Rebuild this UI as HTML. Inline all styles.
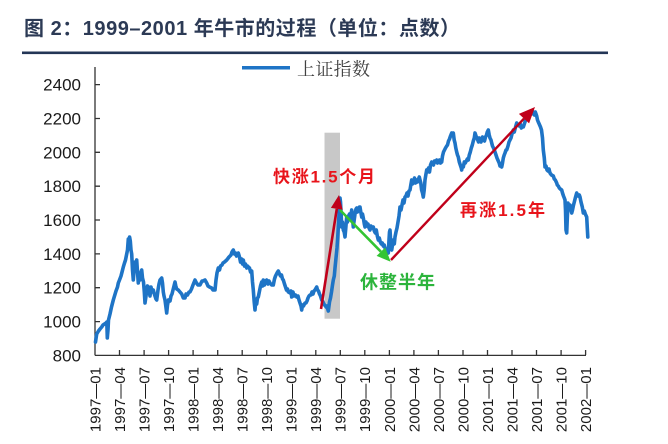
<!DOCTYPE html>
<html>
<head>
<meta charset="utf-8">
<style>
html,body{margin:0;padding:0;background:#fff;}
svg{display:block;}
.ax{font-family:"Liberation Sans",Arial,sans-serif;fill:#1a1a1a;}
</style>
</head>
<body>
<svg width="668" height="444" viewBox="0 0 668 444" xmlns="http://www.w3.org/2000/svg">
<rect width="668" height="444" fill="#fff"/>
<!-- title -->
<text x="24" y="35" font-family="'Liberation Sans','Noto Sans CJK SC',sans-serif" font-size="20" font-weight="bold" fill="#2c3a55" textLength="436" lengthAdjust="spacing">图 2：1999–2001 年牛市的过程（单位：点数）</text>
<rect x="22" y="51.5" width="586" height="2.6" fill="#233656"/>

<!-- legend -->
<line x1="242" y1="67.7" x2="290" y2="67.7" stroke="#1e74c6" stroke-width="3.5"/>
<text x="297" y="75.5" font-family="'Liberation Serif','Noto Serif CJK SC',serif" font-size="18" fill="#404040" textLength="73" lengthAdjust="spacing">上证指数</text>

<!-- gray band -->
<rect x="324.5" y="132.7" width="15.5" height="186" fill="#c8c8c8"/>

<!-- axes -->
<g stroke="#333" stroke-width="1.3" fill="none">
<line x1="95" y1="67" x2="95" y2="355.4"/>
<line x1="95" y1="355.4" x2="586" y2="355.4"/>
<path d="M95 84.6h5M95 118.5h5M95 152.3h5M95 186.2h5M95 220h5M95 253.9h5M95 287.7h5M95 321.6h5"/>
<path d="M119.5 355v-5M144.1 355v-5M168.6 355v-5M193.1 355v-5M217.7 355v-5M242.2 355v-5M266.7 355v-5M291.2 355v-5M315.8 355v-5M340.3 355v-5M364.8 355v-5M389.4 355v-5M413.9 355v-5M438.4 355v-5M463 355v-5M487.5 355v-5M512 355v-5M536.5 355v-5M561.1 355v-5M585.6 355v-5"/>
</g>

<!-- y labels -->
<g class="ax" font-size="17" text-anchor="end">
<text x="81" y="90.6">2400</text>
<text x="81" y="124.5">2200</text>
<text x="81" y="158.3">2000</text>
<text x="81" y="192.2">1800</text>
<text x="81" y="226">1600</text>
<text x="81" y="259.9">1400</text>
<text x="81" y="293.7">1200</text>
<text x="81" y="327.6">1000</text>
<text x="81" y="361.4">800</text>
</g>

<!-- x labels -->
<g class="ax" font-size="15" text-anchor="end">
<text transform="translate(100.4,367) rotate(-90)">1997—01</text>
<text transform="translate(124.9,367) rotate(-90)">1997—04</text>
<text transform="translate(149.5,367) rotate(-90)">1997—07</text>
<text transform="translate(174,367) rotate(-90)">1997—10</text>
<text transform="translate(198.5,367) rotate(-90)">1998—01</text>
<text transform="translate(223.1,367) rotate(-90)">1998—04</text>
<text transform="translate(247.6,367) rotate(-90)">1998—07</text>
<text transform="translate(272.1,367) rotate(-90)">1998—10</text>
<text transform="translate(296.6,367) rotate(-90)">1999—01</text>
<text transform="translate(321.2,367) rotate(-90)">1999—04</text>
<text transform="translate(345.7,367) rotate(-90)">1999—07</text>
<text transform="translate(370.2,367) rotate(-90)">1999—10</text>
<text transform="translate(394.8,367) rotate(-90)">2000—01</text>
<text transform="translate(419.3,367) rotate(-90)">2000—04</text>
<text transform="translate(443.8,367) rotate(-90)">2000—07</text>
<text transform="translate(468.4,367) rotate(-90)">2000—10</text>
<text transform="translate(492.9,367) rotate(-90)">2001—01</text>
<text transform="translate(517.4,367) rotate(-90)">2001—04</text>
<text transform="translate(541.9,367) rotate(-90)">2001—07</text>
<text transform="translate(566.5,367) rotate(-90)">2001—10</text>
<text transform="translate(591,367) rotate(-90)">2002—01</text>
</g>

<!-- series -->
<polyline fill="none" stroke="#1e74c6" stroke-width="3.6" stroke-linejoin="round" stroke-linecap="round" points="
95.5,342 96.7,334 98.5,331 100,329 101.7,327 103,325 104.5,324 106,323 106.8,322 107.3,338 108,330 108.5,320 110,314 111.5,307 113.3,300 114.5,296 116,291 117.5,287 118.3,283 119.5,280 121,276 122.3,271 123.3,267 124.5,263 125.5,260 126.7,254 127.5,250 128.3,239 129,245 129.6,237 130.3,241 131,250 131.7,254 132.5,270 133.3,280 134.3,268 135,262 136,264 136.7,260 137.5,272 138.3,283 139,276 140,280 141,272 141.7,270 142.5,278 143.5,282 144.3,292 145,303 146,296 146.8,290 147.5,286 148.3,287 149.3,292 150,296 151,287 152,292 153.3,290 154.3,294 155,296 156,299 156.7,300 158,290 159,284 160,280 161.7,278 162.5,283 163.3,292 164,296 165,300 165.8,306 166.7,313 167.5,305 168.5,300 170,301 171,296 172,294 173,290 174,286 175,282 175.8,286 176.7,289 178.3,290 180,292 181.7,294 182.5,296 183.3,298 185,298 186,294 187.5,295 189,292 190,292 191.5,289 193,285 195,280 196.5,283 198,285 200,285 201,283 202,281 203,281 205,280 206.7,283 208,286 209.5,287 211.7,288 213,290 215,290 216,280 217,273 218.3,268 219.5,270 220.5,266 222,265 223,263 224.5,262 226.7,260 227.5,259 229,257 230,256 231,255 232,252 233.3,250 234.5,254 235.5,253 236.5,256 237.5,254 238.3,253 239.5,257 240.5,262 241.7,259 242.5,264 243.3,260 244.5,266 245.5,264 246.7,268 247.5,266 248.3,267 249.5,268 250.5,272 251.7,271 252.5,282 253.3,290 254.2,302 255,310 255.8,300 256.7,304 257.5,298 258.3,297 259.3,292 260.5,286 261.7,282 262.5,286 263.3,280 264.5,285 265.5,281 266.7,280 268,284 269,281 270,283 271.7,285 273.3,285 274.5,279 275.5,276 277,273 278.3,271 279.5,274 280.5,276 281.5,275 282.5,279 283.3,280 284.5,284 285.5,287 286.5,290 287.5,289 288.3,292 290,293 291,291 291.7,297 293,292 294,296 295.5,295 296.7,297 298,296 299,300 300,303 301,306 301.7,310 302.5,305 303.5,306 305,303 306,303 307,301 308,298 309,296 310,295 311,295 312,292 313,294 314,291 315,290 316.7,287 317.5,290 318.5,291 319.5,294 320.5,296 321.7,300 322.5,301 323.5,303 324.5,305 325.5,306 326,307 327,306 328.3,311 329.5,302 330.5,298 331.5,292 332.5,285 333.3,280 334.3,276 335,268 336,258 337,248 337.8,236 338.3,227 339,215 339.5,205 340,198 340.5,202 341.2,215 341.7,227 342.5,222 343.3,230 344.2,232 345,237 345.8,228 346.7,217 347.5,222 348.5,216 349.5,214 350.5,218 351.7,210 352.5,218 353.3,227 354.2,220 355,214 356,209 356.7,208 357.5,212 358.5,210 359.3,207 360,207 360.8,212 361.7,217 362.5,214 363.5,219 364.3,224 365,227 366,222 367,226 368,224 369,228 370,230 371,226 372,228 373.3,227 374.3,231 375.3,233 376.3,230 377.3,236 378.3,240 379.3,238 380.3,242 381.3,244 382.3,243 383.3,246 384.2,245 385,248 386,250 387,249 388.3,253 389,240 389.5,232 390,230 390.6,240 391.2,248 391.7,250 392.5,245 393.5,240 394.3,244 395,237 396,232 397,228 398,222 399,216 400,207 401,210 402,205 403,200 404,203 405,197 406,196 407,193 408,196 409,191 410,190 410.8,185 411.7,180 412.5,184 413.5,182 414.5,178 415.5,183 416.7,180 417.5,182 418.5,179 419.3,177 420,180 420.8,183 421.6,190 422.5,193 423.3,197 424.2,190 425,180 425.8,175 426.7,170 427.5,172 428.5,168 429.5,172 430.5,165 431.7,162 432.5,163 433.5,165 434.5,161 435.5,162 436.7,160 437.5,163 438.5,162 439.5,160 440.5,163 441.7,162 442.5,156 443.5,152 444.5,150 445.5,148 446.7,146 447.5,145 448.5,141 449.5,139 450.5,136 451.7,133 452.5,135 453.3,133 454.2,140 455,143 455.8,148 456.7,152 457.5,155 458.3,157 459.3,162 460.3,165 461.3,168 461.7,170 462.3,166 463.3,167 464.3,162 465.3,163 466.3,161 467.3,159 468.3,160 469.3,155 470.3,152 471.3,148 472.3,145 473.3,141 474.3,138 475,133 476,136 477,138 478.5,142 479.3,138 480,140 481,142 481.7,140 482.5,137 483.5,139 484.5,141 485.5,137 486.5,135 487.3,132 488.3,130 489.2,135 490,138 491,140 491.7,143 492.5,146 493.5,148 494.3,150 495,152 496,155 497,158 498.3,161 499.2,163 500,166 501,164 501.7,167 502.5,163 503.3,158 504.2,155 505,153 506,150 506.7,150 508,146 509,142 510,140 511,138 512,134 513.3,130 514.3,132 515.3,128 516.7,123 517.5,125 518.3,125 519.3,126 520.3,124 521.3,128 522.3,127 523.3,127 524.3,124 525.3,121 526.7,117 527.5,118 528.5,116 529.5,115 530.5,113 531.3,114 532.3,111 533.3,113 534.3,115 535.3,112 536.7,116 537.5,120 538.3,122 539.2,124 540.5,127 541.5,130 542.5,138 543.3,150 544.3,158 545,167 546,166 547,170 548,171 549,169 550,173 551.5,175 553.3,176 554.3,179 555.3,180 556.7,183 557.3,185 558.3,186 559.3,188 560.3,189 561.7,190 562.5,193 563.5,196 564.3,198 565,200 565.5,210 566,230 566.7,233 567.3,218 568,203 569,207 570,205 571,210 571.7,213 572.5,210 573.3,206 574.3,202 575.3,198 576.7,193 577.5,195 578.3,196 579.3,195 580,197 581,202 582.3,207 583.3,213 584.3,211 585.3,214 586.7,217 587.3,228 587.8,237"/>

<!-- red arrow 1 -->
<line x1="321" y1="309" x2="336.8" y2="208.8" stroke="#c0001a" stroke-width="2.6"/>
<polygon points="339,195 342.7,209.7 330.9,207.9" fill="#c0001a"/>
<!-- green arrow -->
<line x1="340" y1="210" x2="380.9" y2="251.7" stroke="#33c433" stroke-width="2.6"/>
<polygon points="390.7,261.7 376.6,255.9 385.2,247.5" fill="#33c433"/>
<!-- red arrow 2 -->
<line x1="391" y1="260" x2="524" y2="118.6" stroke="#c0001a" stroke-width="2.4"/>
<polygon points="535,107 529.1,123.4 518.9,113.9" fill="#c0001a"/>

<!-- annotations -->
<g font-family="'Liberation Sans','Noto Sans CJK SC',sans-serif" font-weight="bold">
<text x="273" y="182.5" font-size="17" fill="#e8141b" textLength="102" lengthAdjust="spacing">快涨1.5个月</text>
<text x="460" y="216" font-size="17" fill="#e8141b" textLength="85" lengthAdjust="spacing">再涨1.5年</text>
<text x="360" y="288.5" font-size="18" fill="#2cb43c" textLength="75" lengthAdjust="spacing">休整半年</text>
</g>
</svg>
</body>
</html>
